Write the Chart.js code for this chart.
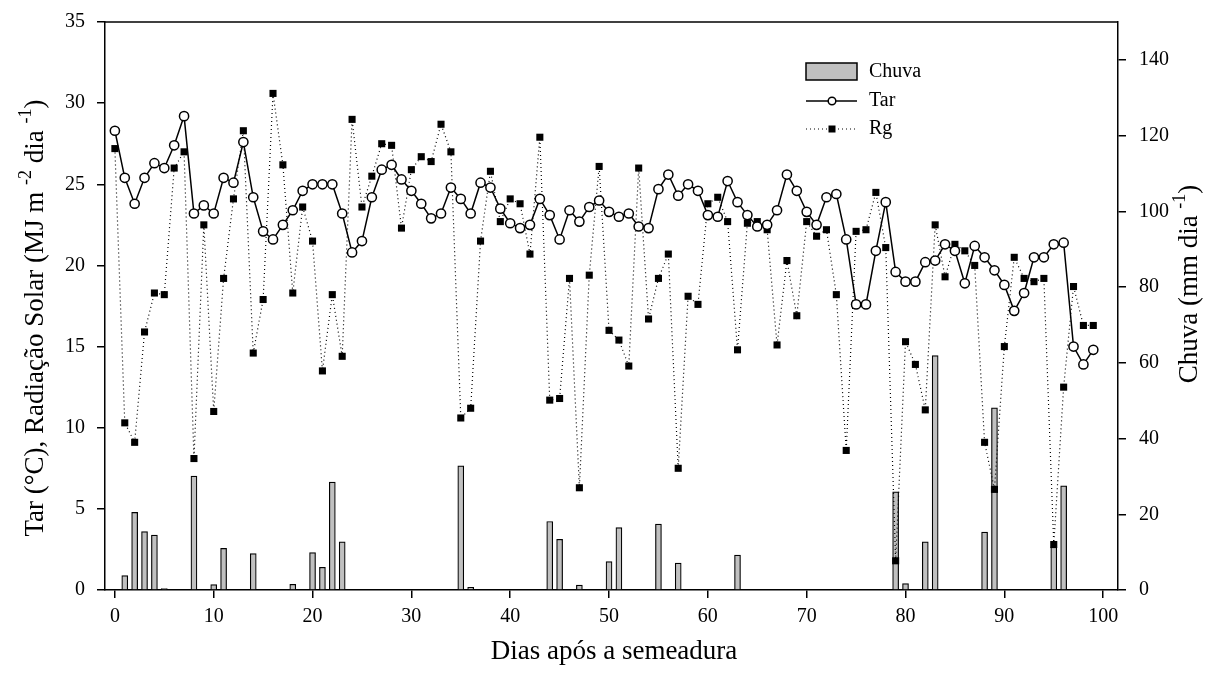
<!DOCTYPE html>
<html>
<head>
<meta charset="utf-8">
<script src="https://cdn.jsdelivr.net/npm/chart.js@4.4.1/dist/chart.umd.min.js"></script>
<style>
  html, body { margin: 0; padding: 0; background: #fff; }
  #wrap { width: 1208px; height: 686px; }
</style>
</head>
<body>
<div id="wrap"><canvas id="myChart" width="1208" height="686"></canvas></div>
<script>
var dias = [0,1,2,3,4,5,6,7,8,9,10,11,12,13,14,15,16,17,18,19,20,21,22,23,24,25,26,27,28,29,
  30,31,32,33,34,35,36,37,38,39,40,41,42,43,44,45,46,47,48,49,50,51,52,53,54,55,56,57,58,59,
  60,61,62,63,64,65,66,67,68,69,70,71,72,73,74,75,76,77,78,79,80,81,82,83,84,85,86,87,88,89,
  90,91,92,93,94,95,96,97,98,99];

// temperatura do ar (°C)
var tar = [28.3,25.4,23.8,25.4,26.3,26.0,27.4,29.2,23.2,23.7,23.2,25.4,25.1,27.6,24.2,22.1,21.6,22.5,23.4,24.6,
  25.0,25.0,25.0,23.2,20.8,21.5,24.2,25.9,26.2,25.3,24.6,23.8,22.9,23.2,24.8,24.1,23.2,25.1,24.8,23.5,
  22.6,22.3,22.5,24.1,23.1,21.6,23.4,22.7,23.6,24.0,23.3,23.0,23.2,22.4,22.3,24.7,25.6,24.3,25.0,24.6,
  23.1,23.0,25.2,23.9,23.1,22.4,22.5,23.4,25.6,24.6,23.3,22.5,24.2,24.4,21.6,17.6,17.6,20.9,23.9,19.6,
  19.0,19.0,20.2,20.3,21.3,20.9,18.9,21.2,20.5,19.7,18.8,17.2,18.3,20.5,20.5,21.3,21.4,15.0,13.9,14.8];

// radiação solar global (MJ m-2 dia-1)
var rg = [27.2,10.3,9.1,15.9,18.3,18.2,26.0,27.0,8.1,22.5,11.0,19.2,24.1,28.3,14.6,17.9,30.6,26.2,18.3,23.6,
  21.5,13.5,18.2,14.4,29.0,23.6,25.5,27.5,27.4,22.3,25.9,26.7,26.4,28.7,27.0,10.6,11.2,21.5,25.8,22.7,
  24.1,23.8,20.7,27.9,11.7,11.8,19.2,6.3,19.4,26.1,16.0,15.4,13.8,26.0,16.7,19.2,20.7,7.5,18.1,17.6,
  23.8,24.2,22.7,14.8,22.6,22.7,22.2,15.1,20.3,16.9,22.7,21.8,22.2,18.2,8.6,22.1,22.2,24.5,21.1,1.8,
  15.3,13.9,11.1,22.5,19.3,21.3,20.9,20.0,9.1,6.2,15.0,20.5,19.2,19.0,19.2,2.8,12.5,18.7,16.3,16.3];

// chuva (mm dia-1), só os dias com chuva
var chuvaDias = [1,2,3,4,5,8,10,11,14,18,20,21,22,23,35,36,44,45,47,50,51,55,57,63,79,80,82,83,88,89,95,96];
var chuvaMm = [3.8,20.5,15.4,14.5,0.4,30.1,1.4,11.0,9.6,1.5,9.9,6.0,28.5,12.7,32.8,0.7,18.1,13.4,1.3,7.5,
  16.5,17.4,7.1,9.2,25.9,1.7,12.7,61.9,15.3,48.1,11.4,27.5];

var serif = "'Liberation Serif', 'Times New Roman', serif";

function pts(xs, ys) {
  var out = [];
  for (var i = 0; i < xs.length; i++) out.push({ x: xs[i], y: ys[i] });
  return out;
}

// draws text made of normal and superscript pieces, centred on (0,0)
function richText(ctx, parts, size) {
  var supSize = Math.round(size * 0.66);
  var total = 0;
  parts.forEach(function(p) {
    ctx.font = (p.sup ? supSize : size) + 'px ' + serif;
    p.w = ctx.measureText(p.t).width;
    total += p.w;
  });
  var x = -total / 2;
  ctx.textBaseline = 'middle';
  ctx.textAlign = 'left';
  parts.forEach(function(p) {
    ctx.font = (p.sup ? supSize : size) + 'px ' + serif;
    ctx.fillText(p.t, x, p.sup ? -size * 0.36 : 0);
    x += p.w;
  });
}

// keep tick label padding from pushing the plot area down
function fixVertical(width) {
  return function(s) {
    s.width = width;
    s.paddingTop = 0;
    s.paddingBottom = 0;
  };
}

var extras = {
  id: 'extras',
  afterDraw: function(chart) {
    var ctx = chart.ctx;
    var a = chart.chartArea;
    ctx.save();
    ctx.strokeStyle = '#000';
    ctx.fillStyle = '#000';
    ctx.lineWidth = 1.5;
    // top of the frame
    ctx.beginPath();
    ctx.moveTo(a.left, a.top);
    ctx.lineTo(a.right, a.top);
    ctx.stroke();

    // axis titles
    ctx.textAlign = 'center';
    ctx.textBaseline = 'middle';
    ctx.font = '27px ' + serif;
    ctx.fillText('Dias após a semeadura', 614, 652);

    ctx.save();
    ctx.translate(36, 318);
    ctx.rotate(-Math.PI / 2);
    richText(ctx, [
      { t: 'Tar (°C), Radiação Solar (MJ m ' },
      { t: '-2', sup: true },
      { t: ' dia ' },
      { t: '-1', sup: true },
      { t: ')' }
    ], 27);
    ctx.restore();

    ctx.save();
    ctx.translate(1190, 284);
    ctx.rotate(-Math.PI / 2);
    richText(ctx, [
      { t: 'Chuva (mm dia ' },
      { t: '-1', sup: true },
      { t: ')' }
    ], 27);
    ctx.restore();

    // legend
    ctx.font = '20px ' + serif;
    ctx.textAlign = 'left';
    ctx.textBaseline = 'middle';
    ctx.fillStyle = '#c0c0c0';
    ctx.fillRect(806, 63, 51, 17);
    ctx.strokeRect(806, 63, 51, 17);
    ctx.fillStyle = '#000';
    ctx.fillText('Chuva', 869, 72);

    ctx.beginPath();
    ctx.moveTo(806, 101);
    ctx.lineTo(857, 101);
    ctx.stroke();
    ctx.beginPath();
    ctx.arc(832, 101, 3.8, 0, Math.PI * 2);
    ctx.fillStyle = '#fff';
    ctx.fill();
    ctx.stroke();
    ctx.fillStyle = '#000';
    ctx.fillText('Tar', 869, 101);

    ctx.save();
    ctx.lineWidth = 1.2;
    ctx.setLineDash([1, 3]);
    ctx.beginPath();
    ctx.moveTo(806, 129);
    ctx.lineTo(857, 129);
    ctx.stroke();
    ctx.restore();
    ctx.fillRect(828.5, 125.5, 7, 7);
    ctx.fillText('Rg', 869, 129);
    ctx.restore();
  }
};

var ctx = document.getElementById('myChart').getContext('2d');

var myChart = new Chart(ctx, {
  type: 'bar',
  data: {
    datasets: [{
      type: 'bar',
      label: 'Chuva',
      data: pts(chuvaDias, chuvaMm),
      yAxisID: 'y2',
      backgroundColor: '#c0c0c0',
      borderColor: '#000',
      borderWidth: 1.2,
      barThickness: 6,
      order: 3
    }, {
      type: 'line',
      label: 'Rg',
      data: pts(dias, rg),
      yAxisID: 'y',
      borderColor: '#000',
      borderWidth: 1.2,
      borderDash: [1, 3],
      pointStyle: 'rect',
      pointRadius: 5,
      pointBackgroundColor: '#000',
      pointBorderColor: '#000',
      pointBorderWidth: 0,
      tension: 0,
      fill: false,
      order: 2
    }, {
      type: 'line',
      label: 'Tar',
      data: pts(dias, tar),
      yAxisID: 'y',
      borderColor: '#000',
      borderWidth: 1.5,
      pointRadius: 4.6,
      pointBackgroundColor: '#fff',
      pointBorderColor: '#000',
      pointBorderWidth: 1.5,
      tension: 0,
      fill: false,
      order: 1
    }]
  },
  options: {
    responsive: false,
    animation: false,
    layout: { padding: { top: 22, left: 0, right: 0, bottom: 0 } },
    plugins: {
      legend: { display: false },
      tooltip: { enabled: false }
    },
    scales: {
      x: {
        type: 'linear',
        position: 'bottom',
        min: -1,
        max: 101.5,
        offset: false,
        ticks: { stepSize: 10, includeBounds: false, color: '#000', font: { family: serif, size: 20 }, padding: 7, maxRotation: 0 },
        grid: { offset: false, drawOnChartArea: false, tickLength: 8, color: '#000', lineWidth: 1.5 },
        border: { color: '#000', width: 1.5 },
        afterFit: function(s) { s.height = 96; }
      },
      y: {
        position: 'left',
        min: 0,
        max: 35,
        ticks: { stepSize: 5, color: '#000', font: { family: serif, size: 20 }, padding: 12 },
        grid: { drawOnChartArea: false, tickLength: 8, color: '#000', lineWidth: 1.5 },
        border: { color: '#000', width: 1.5 },
        afterFit: fixVertical(105)
      },
      y2: {
        position: 'right',
        min: 0,
        max: 150,
        ticks: { stepSize: 20, includeBounds: false, color: '#000', font: { family: serif, size: 20 }, padding: 13 },
        grid: { drawOnChartArea: false, tickLength: 8, color: '#000', lineWidth: 1.5 },
        border: { color: '#000', width: 1.5 },
        afterFit: fixVertical(90)
      }
    }
  },
  plugins: [extras]
});
</script>
</body>
</html>
